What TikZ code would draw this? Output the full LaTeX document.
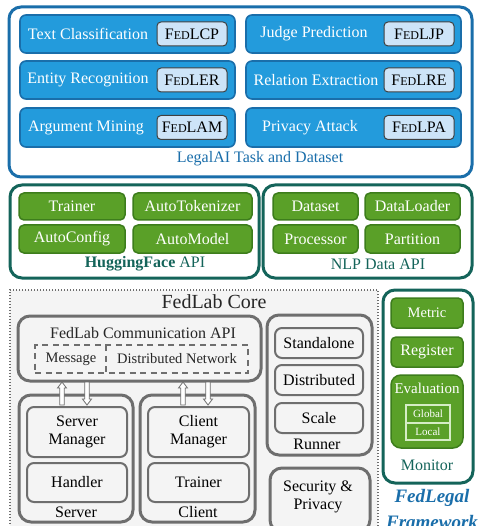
\documentclass[tikz,border=0pt]{standalone}
\usepackage{fontspec}
\setmainfont{Liberation Serif}
\usetikzlibrary{calc}
\definecolor{bfill}{HTML}{239BDC}
\definecolor{bdark}{HTML}{1A6EAA}
\definecolor{blight}{HTML}{CDE4F8}
\definecolor{gfill}{HTML}{5AA028}
\definecolor{gdark}{HTML}{3D7D1C}
\definecolor{tealc}{HTML}{14645A}
\definecolor{gline}{HTML}{6E6E6E}
\definecolor{corebg}{HTML}{F4F4F4}
\definecolor{glight}{HTML}{D5EDC5}
\newcommand\fedl[1]{F{\fontsize{12}{12}\selectfont ED}L#1}
\newcommand\mybox[7]{%
 \pgfmathsetmacro\bxw{#5-#3}\pgfmathsetmacro\bxh{#6-#4}%
 \pgfmathsetmacro\bxcx{(#3+#5)/2}\pgfmathsetmacro\bxcy{(#4+#6)/2}%
 \node[#1, minimum width=\bxw pt, minimum height=\bxh pt] (#2) at (\bxcx,\bxcy) {#7};}
\tikzset{
 base/.style={inner sep=0pt, outer sep=0pt, font=\fontsize{16}{18}\selectfont, align=center},
 txt/.style={base},
 wtxt/.style={base, text=white},
 blueouter/.style={base, draw=bdark, line width=3pt, rounded corners=12pt, fill=white},
 bluebox/.style={base, draw=bdark, line width=1.6pt, fill=bfill, rounded corners=6pt},
 tagbox/.style={base, draw=black!75, line width=1pt, fill=blight, rounded corners=4pt},
 tealbox/.style={base, draw=tealc, line width=3pt, rounded corners=12pt, fill=white},
 greenbox/.style={base, draw=gdark, line width=1.5pt, fill=gfill, rounded corners=5pt, text=white},
 grayouter/.style={base, draw=gline, line width=3pt, rounded corners=12pt, fill=corebg},
 grayinner/.style={base, draw=gline, line width=2pt, rounded corners=7pt, fill=corebg},
 subbox/.style={base, draw=glight, line width=1.5pt, fill=gfill, text=white, font=\fontsize{11}{12}\selectfont},
 hollowarrow/.style={draw=gline, line width=0.8pt, fill=white},
}
\begin{document}
\begin{tikzpicture}[x=1pt, y=-1pt]
\useasboundingbox (0,0) rectangle (483,526);
% ---------- LegalAI ----------
\mybox{blueouter}{legal}{9}{7}{472}{177}{}
\node[txt, text=bdark] (legaltitle) at (260,159) {LegalAI Task and Dataset};
\mybox{bluebox}{t1}{20}{15}{235}{53}{}
\mybox{bluebox}{t2}{246}{15}{461}{53}{}
\mybox{bluebox}{t3}{20}{61}{235}{99}{}
\mybox{bluebox}{t4}{246}{61}{461}{99}{}
\mybox{bluebox}{t5}{20}{108}{235}{147}{}
\mybox{bluebox}{t6}{246}{108}{461}{147}{}
\node[wtxt] (t1t) at (88,34) {Text Classification};
\node[wtxt] (t2t) at (314,34) {Judge Prediction};
\node[wtxt] (t3t) at (88,80) {Entity Recognition};
\node[wtxt] (t4t) at (316,80) {Relation Extraction};
\node[wtxt] (t5t) at (86,127.5) {Argument Mining};
\node[wtxt] (t6t) at (310,127.5) {Privacy Attack};
\mybox{tagbox}{g1}{157}{22}{227}{46}{\fedl{CP}}
\mybox{tagbox}{g2}{384}{22}{454}{46}{\fedl{JP}}
\mybox{tagbox}{g3}{157}{68}{227}{92}{\fedl{ER}}
\mybox{tagbox}{g4}{384}{68}{454}{92}{\fedl{RE}}
\mybox{tagbox}{g5}{157}{115.5}{227}{139.5}{\fedl{AM}}
\mybox{tagbox}{g6}{384}{115.5}{454}{139.5}{\fedl{PA}}
% ---------- APIs ----------
\mybox{tealbox}{hf}{10}{185}{259}{278}{}
\mybox{tealbox}{nlp}{263}{185}{472}{278}{}
\mybox{greenbox}{h1}{19}{193}{125}{220}{Trainer}
\mybox{greenbox}{h2}{133}{193}{252}{220}{AutoTokenizer}
\mybox{greenbox}{h3}{19}{225}{125}{253}{AutoConfig}
\mybox{greenbox}{h4}{133}{225}{252}{253}{AutoModel}
\mybox{greenbox}{n1}{273}{193}{358}{220}{Dataset}
\mybox{greenbox}{n2}{365}{193}{460}{220}{DataLoader}
\mybox{greenbox}{n3}{273}{225}{358}{253}{Processor}
\mybox{greenbox}{n4}{365}{225}{460}{253}{Partition}
\node[txt, text=tealc] (hftitle) at (145,264) {\textbf{HuggingFace} API};
\node[txt, text=tealc] (nlptitle) at (378,264) {NLP Data API};
% ---------- FedLab Core ----------
\node[base, fill=corebg, minimum width=368pt, minimum height=240pt, anchor=north west] (core) at (10,290) {};
\draw[gline, line width=2pt, dash pattern=on 1.3pt off 1.7pt] (core.south west) -- (core.north west) -- (core.north east) -- (core.south east);
\node[base, font=\fontsize{20}{22}\selectfont, text=black!85] (coretitle) at (214,302) {FedLab Core};
\mybox{grayouter}{comm}{18}{316}{261}{381}{}
\node[txt, text=black!85] (commtitle) at (143,333) {FedLab Communication API};
\mybox{base, draw=gline, line width=2pt, dash pattern=on 6pt off 4.5pt}{net}{35}{345}{248}{373}{}
\coordinate (divtop) at (106,345);
\coordinate (divbot) at (106,373);
\draw[gline, line width=2pt, dash pattern=on 6pt off 4.5pt] (divtop) -- (divbot);
\node[base, font=\fontsize{14.5}{16}\selectfont, text=black!85] (msg) at (71,359) {Message};
\node[base, font=\fontsize{14.5}{16}\selectfont, text=black!85] (dnet) at (177,359) {Distributed Network};
% Server
\mybox{grayouter}{server}{19}{395}{133}{522}{}
\mybox{grayinner}{smgr}{27}{407}{127}{457}{Server\\Manager}
\mybox{grayinner}{handler}{27}{463}{127}{502}{Handler}
\node[txt] (serverlbl) at (76,512) {Server};
% Client
\mybox{grayouter}{client}{140}{395}{255}{522}{}
\mybox{grayinner}{cmgr}{148}{407}{249}{457}{Client\\Manager}
\mybox{grayinner}{ctrainer}{148}{463}{249}{502}{Trainer}
\node[txt] (clientlbl) at (198,512) {Client};
% Runner
\mybox{grayouter}{runner}{267}{315}{372}{455}{}
\mybox{grayinner}{r1}{275}{328}{363}{358}{Standalone}
\mybox{grayinner}{r2}{275}{365}{363}{395}{Distributed}
\mybox{grayinner}{r3}{275}{403}{363}{433}{Scale}
\node[txt] (runnerlbl) at (317,444) {Runner};
% Security
\mybox{grayouter}{sec}{270}{468}{370}{532}{}
\node[txt] (sectxt) at (318,497) {Security \&\\Privacy};
% arrows
\coordinate (a1) at (62,382);
\coordinate (a2) at (87,405);
\coordinate (a3) at (183,382);
\coordinate (a4) at (208,405);
\foreach \c in {a1,a3}{
 \draw[hollowarrow] (\c) -- ++(4.5,6) -- ++(-2.3,0) -- ++(0,17) -- ++(-4.4,0) -- ++(0,-17) -- ++(-2.3,0) -- cycle;}
\foreach \c in {a2,a4}{
 \draw[hollowarrow] (\c) -- ++(4.5,-6) -- ++(-2.3,0) -- ++(0,-17) -- ++(-4.4,0) -- ++(0,17) -- ++(-2.3,0) -- cycle;}
% ---------- Monitor ----------
\mybox{tealbox}{monitor}{383}{290}{473}{483}{}
\mybox{greenbox}{metric}{391}{298}{463}{328}{\fontsize{14.5}{16}\selectfont Metric}
\mybox{greenbox}{register}{391}{337}{463}{367}{}
\node[wtxt] (registertxt) at (427,352) {Register};
\mybox{greenbox, rounded corners=10pt}{eval}{391}{375}{463}{448}{}
\node[wtxt, font=\fontsize{15}{16}\selectfont] (evaltxt) at (427,388) {Evaluation};
\mybox{subbox}{global}{406}{405}{450}{423}{Global}
\mybox{subbox}{local}{406}{423}{450}{440}{Local}
\node[txt, text=tealc] (monlbl) at (427,465) {Monitor};
\node[base, font=\fontsize{19}{21}\selectfont\bfseries\itshape, text=bdark] (fl1) at (432,498) {FedLegal};
\node[base, font=\fontsize{19}{21}\selectfont\bfseries\itshape, text=bdark] (fl2) at (432,522) {Framework};
\end{tikzpicture}
\end{document}
